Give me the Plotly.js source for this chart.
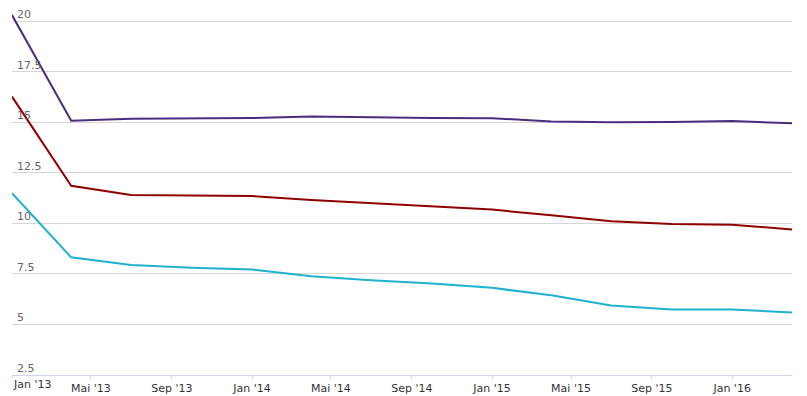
<!DOCTYPE html>
<html>
<head>
<meta charset="utf-8">
<script src="https://cdn.plot.ly/plotly-3.0.1.min.js"></script>
<style>
html,body{margin:0;padding:0;background:#fff;}
#chart{width:807px;height:396px;}
</style>
</head>
<body>
<div id="chart"></div>
<script>
// Quarterly dates
const dates = ["2013-01-01","2013-04-01","2013-07-01","2013-10-01","2014-01-01","2014-04-01","2014-07-01","2014-10-01","2015-01-01","2015-04-01","2015-07-01","2015-10-01","2016-01-01","2016-04-01"];
const seriesPurple = [20.3,15.08,15.18,15.19,15.21,15.28,15.23,15.21,15.2,15.04,15.0,15.01,15.06,14.95];
const seriesRed    = [16.27,11.86,11.4,11.38,11.35,11.15,11.0,10.86,10.68,10.4,10.11,9.97,9.93,9.7];
const seriesCyan   = [11.49,8.32,7.94,7.81,7.72,7.39,7.19,7.03,6.81,6.44,5.94,5.74,5.74,5.59];
const xTickVals = ["2013-01-01","2013-05-01","2013-09-01","2014-01-01","2014-05-01","2014-09-01","2015-01-01","2015-05-01","2015-09-01","2016-01-01"];
const xTickText = ["Jan '13","Mai '13","Sep '13","Jan '14","Mai '14","Sep '14","Jan '15","Mai '15","Sep '15","Jan '16"];
const yTickVals = [2.5,5,7.5,10,12.5,15,17.5,20];
const yTickText = ["2.5","5","7.5","10","12.5","15","17.5","20"];

const mk = (y, color) => ({
  x: dates, y: y, type: "scatter", mode: "lines",
  line: {color: color, width: 2}, hoverinfo: "skip"
});

const data = [
  mk(seriesCyan, "#1fb0d2"),
  mk(seriesRed, "#8f0000"),
  mk(seriesPurple, "#4b2d7f")
];

const axisText = xTickText.map((t, i) => i === 0 ? "" : t);

const layout = {
  width: 807, height: 396,
  margin: {l: 12, r: 15, t: 5, b: 21},
  paper_bgcolor: "#fff", plot_bgcolor: "#fff",
  showlegend: false,
  font: {family: "DejaVu Sans, sans-serif"},
  xaxis: {
    type: "date",
    range: [dates[0], dates[dates.length-1]],
    tickmode: "array", tickvals: xTickVals, ticktext: axisText,
    showgrid: false, zeroline: false,
    showline: true, linecolor: "#ccd6eb", linewidth: 1,
    ticks: "outside", ticklen: 3, tickcolor: "#ccd6eb", tickwidth: 1,
    ticklabelstandoff: 0,
    tickfont: {size: 11, color: "#333333"},
    fixedrange: true
  },
  yaxis: {
    range: [2.5, 20.8],
    tickmode: "array", tickvals: yTickVals, ticktext: yTickText,
    showgrid: true, gridcolor: "#d6d6d6", gridwidth: 1,
    zeroline: false, showline: false, ticks: "",
    ticklabelposition: "inside",
    ticklabeloverflow: "allow",
    ticklabelstandoff: 2,
    ticklabelshift: -7,
    tickfont: {size: 11, color: "#666666"},
    fixedrange: true
  },
  annotations: [{
    x: xTickVals[0], xref: "x", y: 0, yref: "paper",
    xanchor: "left", yanchor: "top", yshift: -1, xshift: -1,
    text: xTickText[0], showarrow: false,
    font: {size: 11, color: "#333333", family: "DejaVu Sans, sans-serif"}
  }]
};

Plotly.newPlot("chart", data, layout, {displayModeBar: false, staticPlot: true});
</script>
</body>
</html>
